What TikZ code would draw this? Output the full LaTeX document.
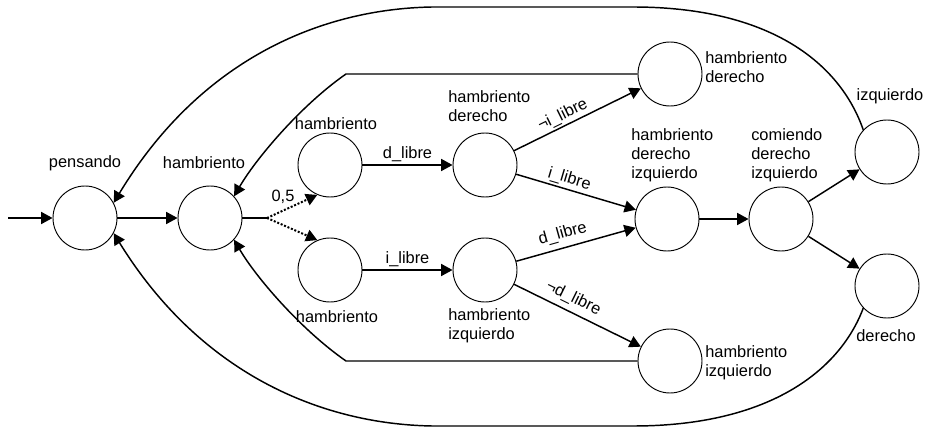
\documentclass[tikz,border=0pt]{standalone}
\usepackage{fontspec}
\setmainfont{Liberation Sans}
\usetikzlibrary{arrows.meta}
\begin{document}
\begin{tikzpicture}[x=0.75pt,y=-0.75pt,
  state/.style={draw,circle,minimum size=48pt,inner sep=0pt,line width=0.7pt},
  trans/.style={line width=1.1pt,-{Triangle[length=8.5pt,width=9pt]}},
  link/.style={line width=1.1pt},
  chance/.style={line width=1.5pt,dash pattern=on 1.5pt off 1.3pt},
  lbl/.style={inner sep=0pt,font=\fontsize{12.3}{14.3}\selectfont,align=left},
  elbl/.style={inner sep=2pt,font=\fontsize{12.3}{14.3}\selectfont},
]
\useasboundingbox (0,0) rectangle (926,431);

% states
\node[state] (pens) at (85,218) {};
\node[state] (ham) at (210,218) {};
\node[state] (ha) at (330,165) {};
\node[state] (hb) at (330,270) {};
\node[state] (hd) at (485,165) {};
\node[state] (hi) at (485,270) {};
\node[state] (hdr) at (670,74) {};
\node[state] (hdi) at (667,219) {};
\node[state] (com) at (781,219) {};
\node[state] (izq) at (887,152) {};
\node[state] (der) at (887,286) {};
\node[state] (hil) at (670,361) {};

% state names
\node[lbl] (pens-l) at (85,163) {pensando};
\node[lbl] (ham-l) at (204,163) {hambriento};
\node[lbl] (ha-l) at (336,124) {hambriento};
\node[lbl] (hb-l) at (337,317) {hambriento};
\node[lbl,anchor=west] (hd-l) at (448,106) {hambriento\\derecho};
\node[lbl,anchor=west] (hi-l) at (448,326) {hambriento\\izquierdo};
\node[lbl,anchor=west] (hdr-l) at (705,67) {hambriento\\derecho};
\node[lbl,anchor=west] (hdi-l) at (631,155) {hambriento\\derecho\\izquierdo};
\node[lbl,anchor=west] (com-l) at (751,155) {comiendo\\derecho\\izquierdo};
\node[lbl] (izq-l) at (890,96) {izquierdo};
\node[lbl] (der-l) at (886,336) {derecho};
\node[lbl,anchor=west] (hil-l) at (705,363) {hambriento\\izquierdo};

% helper points
\coordinate (start) at (8,218);
\coordinate (split) at (267,218);
\coordinate (uc) at (346,74);
\coordinate (lc) at (346,361);
\coordinate (tr) at (633,7);
\coordinate (tl) at (432,7);
\coordinate (br) at (633,426);
\coordinate (bl) at (432,426);

% main transitions
\draw[trans] (start) -- (pens);
\draw[trans] (pens) -- (ham);
\draw[link] (ham) -- (split);
\node[elbl] (half) at (283,197) {0,5};
\draw[trans,chance] (split) -- (ha.-113);
\draw[trans,chance] (split) -- (hb.113);
\draw[trans] (ha) -- node[elbl,above] (ha-e) {d\_libre} (hd);
\draw[trans] (hb) -- node[elbl,above] (hb-e) {i\_libre} (hi);
\draw[trans] (hd) -- node[elbl,sloped,above,pos=0.42,inner sep=1.5pt] (hd-e1) {¬i\_libre} (hdr);
\draw[trans] (hd) -- node[elbl,sloped,above,pos=0.42,inner sep=1.5pt] (hd-e2) {i\_libre} (hdi);
\draw[trans] (hi) -- node[elbl,sloped,above,pos=0.42,inner sep=4pt] (hi-e1) {d\_libre} (hdi);
\draw[trans] (hi) -- node[elbl,sloped,above,pos=0.42,inner sep=4pt] (hi-e2) {¬d\_libre} (hil);
\draw[trans] (hdi) -- (com);
\draw[trans] (com) -- (izq);
\draw[trans] (com) -- (der);

% returns to hambriento
\draw[trans] (hdr.west) -- (uc) .. controls (300,106) and (255,160) .. (ham.42);
\draw[trans] (hil.west) -- (lc) .. controls (300,329) and (255,276) .. (ham.-42);

% returns to pensando
\draw[trans] (izq.137) .. controls (840,63) and (770,7) .. (tr) -- (tl)
  .. controls (320,9) and (200,60) .. (pens.28);
\draw[trans] (der.-137) .. controls (840,370) and (770,426) .. (br) -- (bl)
  .. controls (320,424) and (200,373) .. (pens.-28);
\end{tikzpicture}
\end{document}
